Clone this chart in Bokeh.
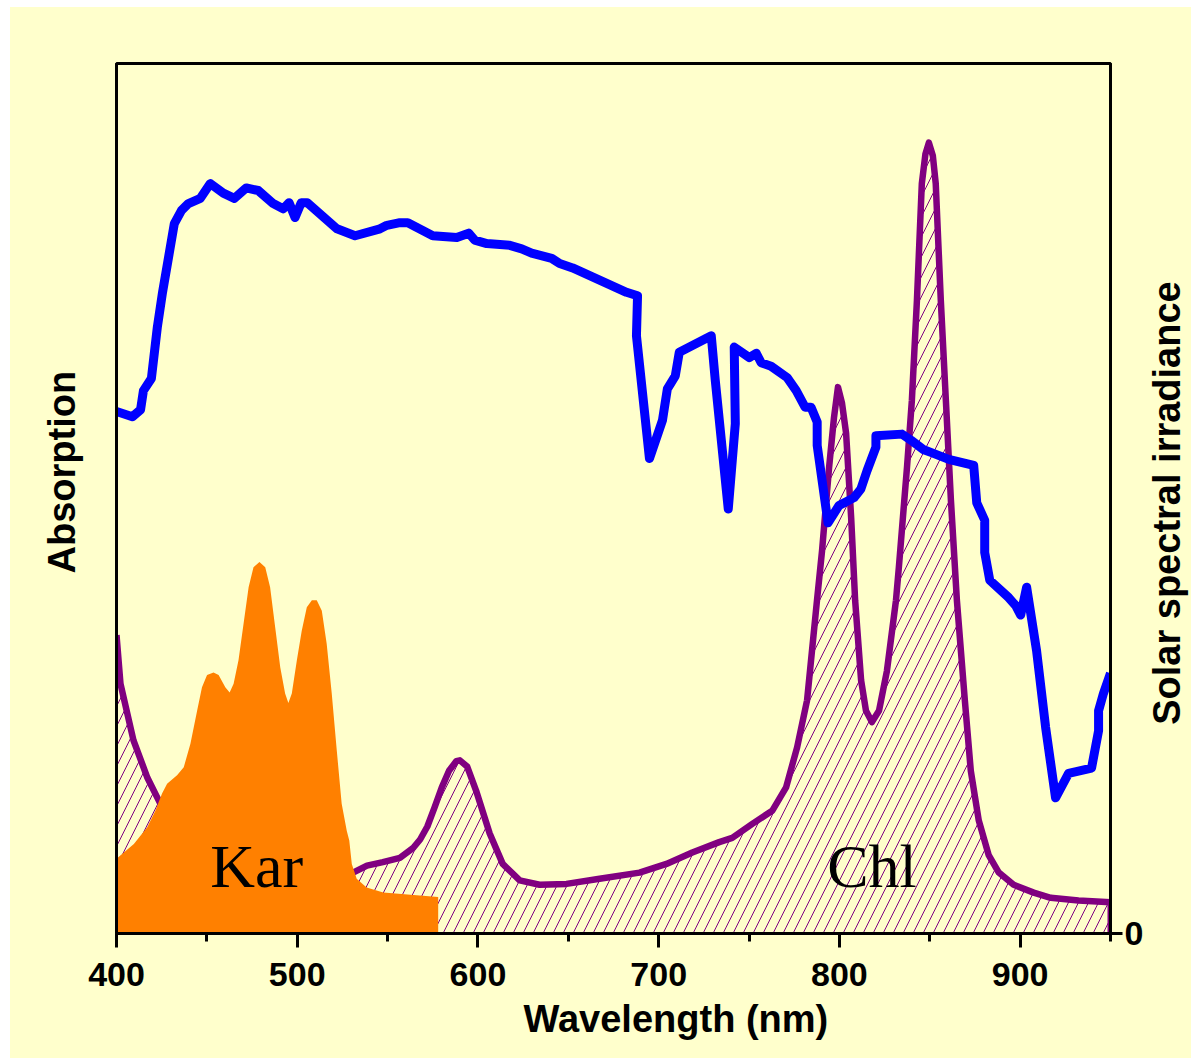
import math
from bokeh.plotting import figure
from bokeh.layouts import row
from bokeh.models import (Range1d, LinearAxis, FixedTicker, SingleIntervalTicker, Label, Title)
from bokeh.embed import file_html
from bokeh.resources import INLINE

# ---------------- data ----------------
# Solar spectral irradiance (relative units)
solar_nm = [400, 408.8, 413.3, 414.9, 419.3, 422.6, 425.4, 432.0, 435.9, 439.8,
            446.4, 451.9, 459.1, 465.2, 471.8, 478.4, 486.7, 492.2, 495.5, 498.8,
            502.2, 505.5, 516.5, 522.0, 532.0, 545.8, 549.6, 556.8, 561.2, 575.0,
            588.3, 594.9, 598.2, 604.9, 617.6, 624.2, 629.7, 640.8, 645.2, 652.4,
            682.2, 688.3, 687.7, 694.9, 702.1, 704.8, 709.2, 711.4, 729.1, 731.3,
            738.5, 742.4, 741.8, 750.1, 754.0, 756.7, 762.2, 771.1, 776.1, 781.0,
            784.3, 787.7, 787.7, 793.7, 799.8, 808.1, 811.9, 815.3, 820.2, 820.2,
            834.6, 839.6, 846.7, 850.6, 860.5, 874.3, 876.0, 880.4, 880.4, 883.2,
            893.7, 897.5, 900.3, 903.6, 909.1, 914.1, 919.6, 926.8, 939.5, 943.4,
            943.4, 946.1, 950]
solar_val = [60.0, 59.4, 60.2, 62.4, 63.8, 69.7, 73.6, 81.6, 83.1, 83.9,
             84.5, 86.2, 85.1, 84.5, 85.7, 85.4, 83.9, 83.3, 84.0, 82.3,
             84.0, 84.0, 82.0, 81.0, 80.2, 81.0, 81.4, 81.7, 81.7, 80.2,
             80.0, 80.5, 79.7, 79.3, 79.1, 78.7, 78.2, 77.6, 77.0, 76.5,
             73.7, 73.3, 68.7, 54.6, 59.0, 62.6, 64.1, 66.8, 68.7, 63.6,
             48.8, 58.6, 67.4, 66.2, 66.7, 65.6, 65.2, 63.9, 62.4, 60.5,
             60.5, 58.8, 56.1, 47.2, 49.2, 50.1, 51.1, 53.2, 55.9, 57.2,
             57.4, 56.7, 55.6, 55.3, 54.5, 53.8, 49.5, 47.5, 43.8, 40.6,
             38.6, 37.7, 36.6, 39.8, 32.5, 23.7, 15.6, 18.4, 19.0, 23.3,
             25.6, 27.6, 29.9]

# Chlorophyll (bacteriochlorophyll) absorption
chl_nm = [400, 402.2, 409.4, 417.1, 424.3, 446.4, 474, 501.6, 530.9, 538.6,
          547.4, 556.8, 564, 568, 572, 576, 580, 584, 588, 590,
          594, 599, 606.5, 613.7, 623.1, 634.1, 649.0, 667.3, 689.4, 704.3,
          718.6, 733.5, 740.7, 751.8, 762.8, 770.5, 776.6, 782.1, 787.6, 790.4,
          794.3, 797.0, 799.2, 801.4, 803.7, 806.5, 808.7, 812, 814.7, 818.0,
          821.9, 826.3, 831.3, 832.9, 837.4, 840.1, 842.9, 845.6, 847.6, 849.5,
          851.7, 853.3, 856.1, 858.9, 861.7, 865.0, 869.4, 872.7, 877.1, 882.6,
          888.2, 896.4, 907.5, 916.9, 932.3, 950]
chl_abs = [34.3, 28.7, 22.2, 17.9, 14.9, 10.7, 8.4, 7.5, 7.0, 7.8,
           8.2, 8.7, 9.8, 10.8, 12.3, 14.5, 16.8, 18.7, 19.8, 19.9,
           19.2, 16.4, 11.5, 8.0, 6.1, 5.6, 5.7, 6.3, 7.0, 8.0,
           9.3, 10.5, 11.0, 12.6, 14.1, 16.8, 21.4, 26.8, 38.3, 44.0,
           53.6, 59.3, 62.8, 61.0, 57.5, 47.8, 38.3, 29.1, 25.6, 24.3,
           25.6, 30.2, 38.3, 42.1, 53.6, 61.3, 72.8, 86.2, 89.6, 90.9,
           89.4, 86.2, 72.8, 61.3, 49.8, 38.3, 26.8, 18.7, 13.0, 9.0,
           7.0, 5.6, 4.7, 4.1, 3.8, 3.6]

# Carotenoid absorption
kar_nm = [400, 409.6, 417.0, 421.5, 425.2, 428.0, 433.5, 437.2, 440.9, 444.6,
          447.3, 450.1, 453.7, 456.5, 460.2, 462.6, 464.8, 467.5, 470.3, 473.1,
          475.8, 479.1, 482.3, 485.0, 487.8, 490.6, 493.3, 495.1, 497.0, 499.8,
          502.5, 505.3, 508.1, 510.8, 513.6, 516.3, 519.1, 521.9, 524.6, 527.4,
          528.8, 530.2, 532.9, 538.4, 547.6, 566.1, 578.0]
kar_abs = [8.6, 10.3, 12.2, 14.1, 16.1, 17.2, 18.2, 19.1, 21.8, 25.6,
           28.3, 29.7, 30.0, 29.7, 28.3, 27.7, 28.7, 31.4, 35.6, 39.8,
           42.1, 42.7, 42.1, 39.8, 35.2, 30.6, 27.6, 26.5, 27.6, 31.4,
           34.8, 37.5, 38.3, 38.3, 37.1, 33.3, 27.6, 21.0, 14.9, 11.8,
           10.7, 8.0, 6.3, 5.3, 4.7, 4.4, 4.2]

x_label = "Wavelength (nm)"
left_label = "Absorption"
right_label = "Solar spectral irradiance"

# ---------------- main figure ----------------
BG = "#FFFFCC"
FONT = "Liberation Sans"
H = 1051

p = figure(width=1136, height=H, output_backend="svg", toolbar_location=None,
           x_range=Range1d(400, 950), y_range=Range1d(0, 100),
           x_axis_location=None, y_axis_location=None,
           min_border_left=106, min_border_right=34, min_border_top=56,
           min_border_bottom=125)
p.background_fill_color = BG
p.border_fill_color = BG
p.outline_line_color = "black"
p.outline_line_width = 3
p.grid.visible = False

def style_axis(ax):
    ax.axis_line_color = "black"
    ax.axis_line_width = 3
    ax.major_tick_line_color = "black"
    ax.major_tick_line_width = 3
    ax.minor_tick_line_color = "black"
    ax.minor_tick_line_width = 3
    ax.major_tick_in = 0
    ax.minor_tick_in = 0
    ax.major_label_text_font = FONT
    ax.major_label_text_font_style = "bold"
    ax.major_label_text_font_size = "34px"
    ax.major_label_text_color = "black"

xaxis = LinearAxis(ticker=SingleIntervalTicker(interval=100, num_minor_ticks=2))
style_axis(xaxis)
xaxis.major_tick_out = 14
xaxis.minor_tick_out = 8
xaxis.major_label_standoff = 15
p.add_layout(xaxis, "below")

# left axis: plain line; an unlabeled, undrawn tick only reserves room
laxis = LinearAxis(ticker=FixedTicker(ticks=[0]))
style_axis(laxis)
laxis.major_tick_line_color = None
laxis.major_tick_out = 34
laxis.minor_tick_out = 0
laxis.major_label_standoff = 0
laxis.major_label_overrides = {0: ""}
p.add_layout(laxis, "left")

# right axis with its single "0" tick
raxis = LinearAxis(ticker=FixedTicker(ticks=[0]))
style_axis(raxis)
raxis.major_tick_out = 12
raxis.minor_tick_out = 0
raxis.major_label_standoff = 2
p.add_layout(raxis, "right")

# axis titles placed as side titles so they can be offset like the original
p.add_layout(Title(text=x_label, align="left", offset=407, text_font=FONT,
                   text_font_style="bold", text_font_size="38px",
                   text_color="black", standoff=14), "below")
p.add_layout(Title(text=left_label, align="left", offset=360, text_font=FONT,
                   text_font_style="bold", text_font_size="38px",
                   text_color="black", standoff=0), "left")

# hatched chlorophyll area
p.varea(x=chl_nm, y1=0, y2=chl_abs, fill_color=None, fill_alpha=0,
        hatch_pattern="/", hatch_color="#800080", hatch_scale=20, hatch_weight=1)
p.line(chl_nm, chl_abs, line_color="#800080", line_width=6.5, line_join="round")
p.segment(x0=chl_nm[-1], y0=0, x1=chl_nm[-1], y1=chl_abs[-1],
          line_color="#800080", line_width=6)

# carotenoid area
p.varea(x=kar_nm, y1=0, y2=kar_abs, fill_color="#FF8000")

# solar irradiance
p.line(solar_nm, solar_val, line_color="#0000FF", line_width=9, line_join="round")

# in-plot labels
p.add_layout(Label(x=477.6, y=7.8, text="Kar", text_font="Liberation Serif",
                   text_font_size="62px", text_align="center",
                   text_baseline="alphabetic", text_color="black"))
p.add_layout(Label(x=818, y=7.8, text="Chl", text_font="Liberation Serif",
                   text_font_size="62px", text_align="center",
                   text_baseline="alphabetic", text_color="black"))

# ---------------- narrow strip carrying the right-hand axis title ----------------
TW = 45
t = figure(width=TW, height=H, output_backend="svg", toolbar_location=None,
           x_range=Range1d(0, TW), y_range=Range1d(0, H),
           x_axis_location=None, y_axis_location=None, min_border=0)
t.background_fill_color = BG
t.border_fill_color = BG
t.outline_line_color = None
t.grid.visible = False
t.add_layout(Label(x=20, y=520, text=right_label, angle=math.pi / 2,
                   text_font=FONT, text_font_style="bold", text_font_size="38px",
                   text_align="center", text_baseline="middle", text_color="black"))

layout = row(p, t, spacing=0,
             styles={"margin-left": "10px", "margin-top": "7px",
                     "background-color": BG})
open("out.html", "w").write(file_html(layout, INLINE))
